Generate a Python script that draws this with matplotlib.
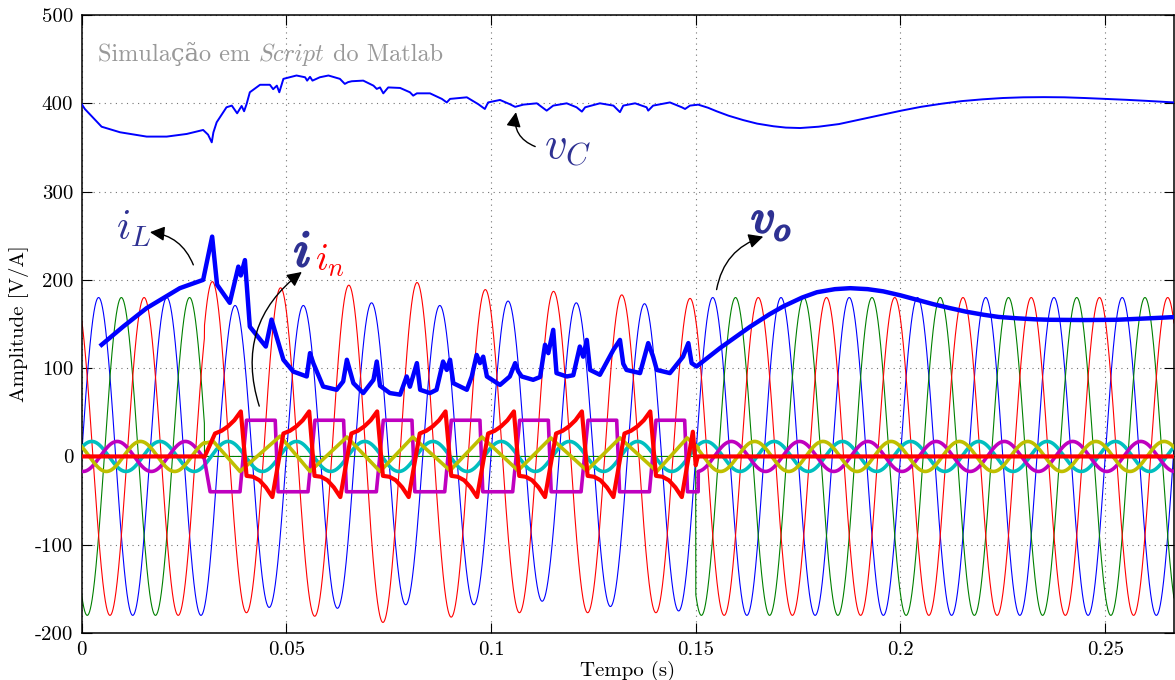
import numpy as np
import matplotlib
matplotlib.use("Agg")
import matplotlib.pyplot as plt
import matplotlib.patheffects as pe
from matplotlib.offsetbox import TextArea, HPacker, AnchoredOffsetbox

plt.rcParams['font.family'] = ['cmr10', 'DejaVu Serif']
plt.rcParams['mathtext.fontset'] = 'cm'
plt.rcParams['axes.unicode_minus'] = False
plt.rcParams['axes.formatter.use_mathtext'] = True

# ---------------- data ----------------
T_END = 0.2668
F_GRID = 60.0
T_FAULT = (0.030, 0.150)
AMP_NOMINAL = 180.0
PHASE_DEG = {'a': 0.0, 'b': -120.0, 'c': 120.0}

# phase a (blue) during the fault: peaks at 0.0375..0.1375 s, troughs at 0.0458..0.1458 s
blue_fault_peaks = [171, 171, 174, 171, 176, 174, 173]
blue_fault_troughs = [171, 172, 168, 168, 164, 170, 175]
# phase c (red) during the fault: peaks at 0.0319..0.1486 s, troughs at 0.0403..0.1403 s
red_fault_peaks = [198, 191, 194, 197, 189, 187, 183, 179]
red_fault_troughs = [177, 181, 188, 182, 177, 177, 177]

# small filter currents (normal operation)
small_amp = 17.0
small_phase_deg = {'y': 139.0, 'c': 36.0, 'm': -98.0}

# capacitor voltage vC
vC_t = [0.0000, 0.0008, 0.0049, 0.0094, 0.0159, 0.0208, 0.0257, 0.0297, 0.0309, 0.0318,
        0.0322, 0.0330, 0.0354, 0.0367, 0.0380, 0.0391, 0.0397, 0.0403, 0.0411, 0.0436,
        0.0460, 0.0468, 0.0477, 0.0483, 0.0493, 0.0525, 0.0546, 0.0551, 0.0558, 0.0564,
        0.0582, 0.0603, 0.0631, 0.0643, 0.0651, 0.0660, 0.0688, 0.0713, 0.0721, 0.0729,
        0.0737, 0.0749, 0.0778, 0.0802, 0.0810, 0.0819, 0.0851, 0.0880, 0.0892, 0.0900,
        0.0941, 0.0969, 0.0985, 0.0993, 0.1022, 0.1046, 0.1059, 0.1079, 0.1112, 0.1136,
        0.1152, 0.1185, 0.1209, 0.1222, 0.1230, 0.1266, 0.1299, 0.1315, 0.1323, 0.1352,
        0.1380, 0.1384, 0.1396, 0.1437, 0.1466, 0.1474, 0.1486, 0.1506, 0.1530, 0.1551,
        0.1580, 0.1616, 0.1650, 0.1690, 0.1720, 0.1755, 0.1800, 0.1850, 0.1900, 0.1950,
        0.2000, 0.2050, 0.2100, 0.2150, 0.2200, 0.2250, 0.2300, 0.2350, 0.2400, 0.2450,
        0.2500, 0.2550, 0.2600, 0.2668]
vC_v = [399.3, 393.6, 373.5, 367.2, 362.3, 362.3, 365.3, 369.8, 364.5, 355.8,
        367.0, 378.5, 395.5, 397.4, 388.7, 397.0, 391.0, 399.0, 412.5, 421.0,
        421.0, 416.0, 420.0, 412.5, 427.7, 431.5, 429.5, 425.7, 430.0, 425.7,
        429.5, 431.5, 427.7, 422.0, 424.0, 425.0, 425.7, 420.0, 416.3, 418.0,
        411.3, 418.0, 417.4, 412.5, 408.7, 411.3, 411.3, 405.0, 401.0, 405.0,
        406.8, 399.0, 393.6, 401.0, 403.8, 399.0, 396.0, 398.5, 400.0, 391.7,
        397.4, 400.0, 395.5, 390.6, 395.5, 400.0, 397.4, 390.0, 397.4, 400.0,
        395.5, 391.7, 397.4, 401.0, 395.5, 393.6, 397.4, 398.5, 395.0, 391.0,
        386.0, 381.0, 377.0, 374.0, 372.5, 372.0, 373.5, 376.5, 381.5, 386.5,
        391.5, 396.0, 399.5, 402.5, 404.5, 406.0, 406.8, 407.0, 406.8, 406.0,
        405.0, 404.0, 402.8, 401.0]

# inductor current iL followed by output voltage vo (thick blue)
iL_t = [0.0049, 0.0102, 0.0159, 0.0240, 0.0297, 0.0319, 0.0331, 0.0362, 0.0383, 0.0389,
        0.0399, 0.0411, 0.0450, 0.0464, 0.0493, 0.0517, 0.0550, 0.0558, 0.0566, 0.0590,
        0.0623, 0.0639, 0.0648, 0.0664, 0.0688, 0.0713, 0.0721, 0.0729, 0.0753, 0.0778,
        0.0794, 0.0802, 0.0819, 0.0827, 0.0851, 0.0867, 0.0883, 0.0892, 0.0900, 0.0908,
        0.0941, 0.0953, 0.0965, 0.0973, 0.0981, 0.0990, 0.1022, 0.1046, 0.1059, 0.1067,
        0.1075, 0.1103, 0.1120, 0.1132, 0.1140, 0.1152, 0.1160, 0.1185, 0.1201, 0.1217,
        0.1225, 0.1234, 0.1242, 0.1266, 0.1299, 0.1315, 0.1323, 0.1331, 0.1364, 0.1384,
        0.1396, 0.1405, 0.1437, 0.1469, 0.1482, 0.1490, 0.1502, 0.1560, 0.1633, 0.1680,
        0.1714, 0.1760, 0.1796, 0.1840, 0.1877, 0.1920, 0.1958, 0.2000, 0.2040, 0.2080,
        0.2121, 0.2160, 0.2203, 0.2240, 0.2284, 0.2330, 0.2365, 0.2450, 0.2528, 0.2609,
        0.2666]
iL_v = [126.5, 147.2, 168.0, 190.6, 200.0, 249.0, 194.5, 174.0, 215.0, 205.0,
        222.4, 147.0, 124.5, 155.0, 109.5, 96.2, 90.6, 117.0, 105.7, 79.2,
        75.5, 85.0, 109.5, 83.0, 71.8, 86.8, 107.5, 80.0, 71.8, 70.0,
        90.6, 79.0, 105.7, 75.5, 71.8, 75.5, 107.5, 98.0, 109.5, 83.0,
        75.5, 90.6, 115.0, 105.7, 113.0, 90.6, 81.0, 90.6, 105.7, 96.0,
        90.6, 86.8, 90.0, 126.5, 117.0, 143.4, 94.4, 90.6, 92.0, 124.5,
        113.0, 132.0, 98.0, 92.5, 120.8, 132.0, 105.0, 98.0, 94.4, 128.4,
        113.0, 98.0, 94.4, 113.0, 128.4, 105.7, 101.9, 123.0, 147.0, 161.0,
        170.0, 180.0, 186.0, 189.5, 190.6, 189.5, 187.0, 182.5, 177.5, 172.5,
        168.0, 164.0, 160.5, 158.0, 156.5, 155.3, 154.8, 154.5, 154.8, 156.5,
        157.8]

# magenta current during the fault: square wave
mag_low_start = [0.0314, 0.0480, 0.0647, 0.0814, 0.0980, 0.1147, 0.1314, 0.1480]
mag_high_start = [0.0403, 0.0570, 0.0737, 0.0903, 0.1070, 0.1237, 0.1403]
mag_low_dur = 0.0073
mag_high_dur = 0.0070
mag_low, mag_high = -40.0, 41.0

# neutral current in (thick red) during the fault
in_pos_start = [0.0326, 0.0493, 0.0659, 0.0826, 0.0993, 0.1159, 0.1326]
in_neg_start = [0.0403, 0.0569, 0.0736, 0.0903, 0.1069, 0.1236, 0.1403]
in_seg_dur = 0.0063
in_pos_shape = [26, 29, 34, 41, 51]
in_neg_shape = [-22, -23, -27, -35, -46]

# yellow current during the fault: triangle corners
yel_fault_t = [0.0300, 0.0322, 0.0387, 0.0485, 0.0558, 0.0648, 0.0729, 0.0809, 0.0900,
               0.0978, 0.1066, 0.1146, 0.1234, 0.1315, 0.1405, 0.1479, 0.1506]
yel_fault_v = [15, 17, -17, 23, -17, 22, -17, 22, -16, 22, -16, 21, -16, 21, -17, 21, 10]

XTICKS = [0, 0.05, 0.1, 0.15, 0.2, 0.25]
XTICK_LABELS = ['0', '0.05', '0.1', '0.15', '0.2', '0.25']
YTICKS = [-200, -100, 0, 100, 200, 300, 400, 500]
YTICK_LABELS = ['-200', '-100', '0', '100', '200', '300', '400', '500']

# ---------------- build the traces ----------------
t = np.linspace(0.0, T_END, 16001)
w = 2 * np.pi * F_GRID
in_fault = (t >= T_FAULT[0]) & (t < T_FAULT[1])


def phase_wave(phi_deg, peaks, troughs, zero_in_fault=False):
    theta = w * t + np.deg2rad(phi_deg)
    half = np.floor(theta / np.pi).astype(int)
    amp = np.full_like(t, AMP_NOMINAL)
    if zero_in_fault:
        amp[in_fault] = 0.0
    else:
        for k, a in enumerate(peaks):
            amp[in_fault & (half == 4 + 2 * k)] = a
        for k, a in enumerate(troughs):
            amp[in_fault & (half == 5 + 2 * k)] = a
    return amp * np.sin(theta)


va = phase_wave(PHASE_DEG['a'], blue_fault_peaks, blue_fault_troughs)
vb = phase_wave(PHASE_DEG['b'], [], [], zero_in_fault=True)
vc = phase_wave(PHASE_DEG['c'], red_fault_peaks, red_fault_troughs)


def small_wave(key):
    return small_amp * np.sin(w * t + np.deg2rad(small_phase_deg[key]))


cyan = small_wave('c')
yel_norm = small_wave('y')
mag_norm = small_wave('m')

pre = t < T_FAULT[0]
post = t > 0.1506

# magenta
mt, mv = [], []
for s in mag_low_start:
    e = min(s + mag_low_dur, 0.1506)
    mt += [s, e]; mv += [mag_low, mag_low]
for s in mag_high_start:
    mt += [s, s + mag_high_dur]; mv += [mag_high, mag_high]
order = np.argsort(mt)
mt = np.array(mt)[order]; mv = np.array(mv)[order]
mag_t = np.concatenate([t[pre], mt, t[post]])
mag_v = np.concatenate([mag_norm[pre], mv, mag_norm[post]])

# yellow
yel_t = np.concatenate([t[pre], yel_fault_t, t[post]])
yel_v = np.concatenate([yel_norm[pre], yel_fault_v, yel_norm[post]])

# neutral current
frac = np.linspace(0, 1, len(in_pos_shape))
nt, nv = [0.0, 0.0301], [0.0, 0.0]
segs = [(s, in_pos_shape) for s in in_pos_start] + [(s, in_neg_shape) for s in in_neg_start]
segs.sort(key=lambda p: p[0])
for s, shp in segs:
    nt += list(s + frac * in_seg_dur); nv += list(shp)
nt += [0.1493, 0.1500, 0.1505, T_END]
nv += [28, -10, 0, 0]

# ---------------- figure ----------------
fig = plt.figure(figsize=(11.75, 6.8), dpi=100)
ax = fig.add_axes([0.0694, 0.0691, 0.9297, 0.9088])

ax.plot(t, va, color='b', lw=0.8, zorder=2)
ax.plot(t, vb, color='g', lw=0.8, zorder=2)
ax.plot(t, vc, color='r', lw=0.8, zorder=2)
ax.plot(iL_t, iL_v, color='b', lw=3.2, zorder=3, solid_joinstyle='round')
ax.plot(vC_t, vC_v, color='b', lw=1.4, zorder=3)
ax.plot(t, cyan, color='c', lw=2.6, zorder=4)
ax.plot(mag_t, mag_v, color='m', lw=2.6, zorder=4)
ax.plot(yel_t, yel_v, color='y', lw=2.6, zorder=4)
ax.plot(nt, nv, color='r', lw=3.0, zorder=5)

ax.set_xlim(0, T_END)
ax.set_ylim(-200, 500)
ax.set_xticks(XTICKS)
ax.set_xticklabels(XTICK_LABELS)
ax.set_yticks(YTICKS)
ax.set_yticklabels(YTICK_LABELS)
ax.tick_params(direction='in', length=7, width=0.8, top=True, right=True,
               labelsize=15, pad=6)
ax.grid(True, color='0.45', linestyle=(0, (1, 4)), lw=0.8)
for sp in ax.spines.values():
    sp.set_linewidth(1.1)
ax.set_xlabel('Tempo (s)', fontsize=15, labelpad=1)
ax.set_ylabel('Amplitude [V/A]', fontsize=15, labelpad=4)

# gray caption, mixed upright / italic, baseline aligned
gray = '#999999'
cap_parts = [
    TextArea('Simulação em ', textprops=dict(color=gray, fontsize=17.5,
                                             family=['cmr10', 'DejaVu Serif'])),
    TextArea('Script', textprops=dict(color=gray, fontsize=17.5, family='cmmi10')),
    TextArea(' do Matlab', textprops=dict(color=gray, fontsize=17.5,
                                          family=['cmr10', 'DejaVu Serif'])),
]
cap = HPacker(children=cap_parts, align='baseline', pad=0, sep=0)
ax.add_artist(AnchoredOffsetbox(loc='center left', child=cap, pad=0, borderpad=0,
                                frameon=False, bbox_to_anchor=(0.0155, 0.937),
                                bbox_transform=ax.transAxes))

navy = '#2e3192'
bold = [pe.withStroke(linewidth=1.6, foreground=navy)]
ax.text(0.1129, 349, r'$v_C$', color=navy, fontsize=32, va='center', ha='left')
ax.text(0.0083, 258, r'$i_L$', color=navy, fontsize=30, va='center', ha='left')
ax.text(0.0518, 230, r'$i$', color=navy, fontsize=37, va='center', ha='left',
        path_effects=bold)
ax.text(0.0570, 222, r'$i_n$', color='r', fontsize=27, va='center', ha='left')
ax.text(0.1635, 266, r'$v_o$', color=navy, fontsize=34, va='center', ha='left',
        path_effects=bold)

arrow_kw = dict(arrowstyle='-|>', color='k', lw=1.0, mutation_scale=22, shrinkA=0, shrinkB=0)
ax.annotate('', xy=(0.1061, 390), xytext=(0.1108, 351),
            arrowprops=dict(connectionstyle='arc3,rad=-0.4', **arrow_kw))
ax.annotate('', xy=(0.0167, 254), xytext=(0.0273, 217),
            arrowprops=dict(connectionstyle='arc3,rad=0.3', **arrow_kw))
ax.annotate('', xy=(0.0538, 209), xytext=(0.0434, 57),
            arrowprops=dict(connectionstyle='arc3,rad=-0.35', **arrow_kw))
ax.annotate('', xy=(0.1665, 249), xytext=(0.1551, 189),
            arrowprops=dict(connectionstyle='arc3,rad=-0.3', **arrow_kw))

fig.savefig('out.png', dpi=100)
